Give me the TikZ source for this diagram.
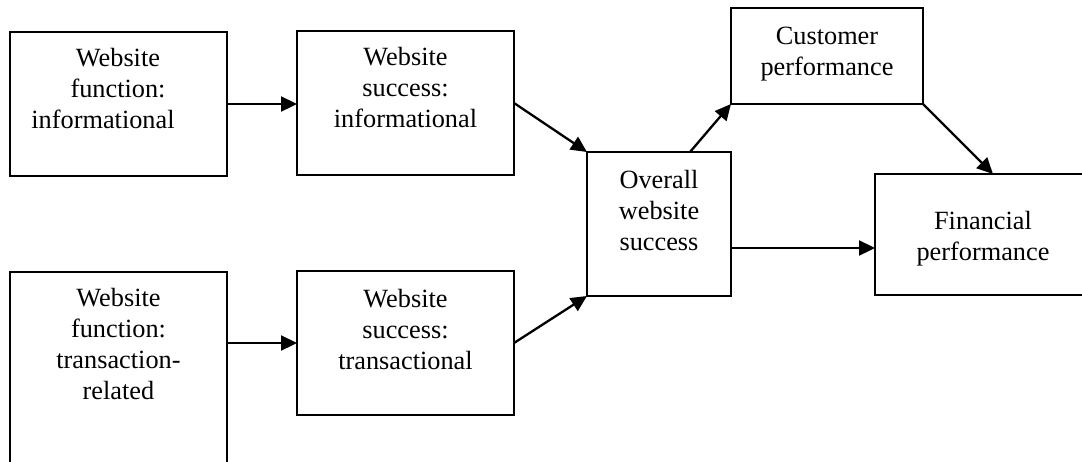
\documentclass[tikz,border=0pt]{standalone}
\usepackage{fontspec}
\setmainfont{Liberation Serif}
\usetikzlibrary{arrows.meta,calc}
\begin{document}
\begin{tikzpicture}[x=1pt,y=-1pt,
  box/.style={draw,line width=1.9pt,inner sep=0pt,outer sep=0pt},
  lbl/.style={anchor=north,align=center,inner sep=0pt,font=\fontsize{26.3}{31}\selectfont},
  conn/.style={line width=2.3pt,-{Triangle[length=16pt,width=15pt]}}]
\clip (0,0) rectangle (1082,461);
% boxes
\node[box,minimum width=217pt,minimum height=144pt] (A) at (118.5,104) {};
\node[box,minimum width=217pt,minimum height=144pt] (B) at (405.5,103) {};
\node[box,minimum width=217pt,minimum height=198pt] (C) at (118.5,371) {};
\node[box,minimum width=217pt,minimum height=144pt] (D) at (405.5,343) {};
\node[box,minimum width=144pt,minimum height=144pt] (E) at (659,224) {};
\node[box,minimum width=192pt,minimum height=96pt] (F) at (827,56) {};
\node[box,minimum width=220pt,minimum height=121pt] (G) at (985,234.5) {};
% texts
\node[lbl] (At) at (118,48) {Website\\function:\\informational\kern30pt};
\node[lbl] (Bt) at (405.5,47) {Website\\success:\\informational};
\node[lbl] (Ct) at (118.5,288) {Website\\function:\\transaction-\\related};
\node[lbl] (Dt) at (405.5,289) {Website\\success:\\transactional};
\node[lbl] (Et) at (659,170) {Overall\\website\\success};
\node[lbl] (Ft) at (827,27) {Customer\\performance};
\node[lbl] (Gt) at (983,211) {Financial\\performance};
% connectors
\draw[conn] (A.east) -- (A.east -| B.west);
\draw[conn] (D.west -| C.east) -- (D.west);
\draw[conn] (B.east) -- (E.north west);
\draw[conn] (D.east) -- (E.south west);
\draw[conn] ([xshift=31pt]E.north) -- (F.south west);
\draw[conn] (F.south east) -- ([xshift=8pt]G.north);
\draw[conn] ([yshift=-24pt]E.east) -- ([yshift=-24pt]E.east -| G.west);
\end{tikzpicture}
\end{document}
